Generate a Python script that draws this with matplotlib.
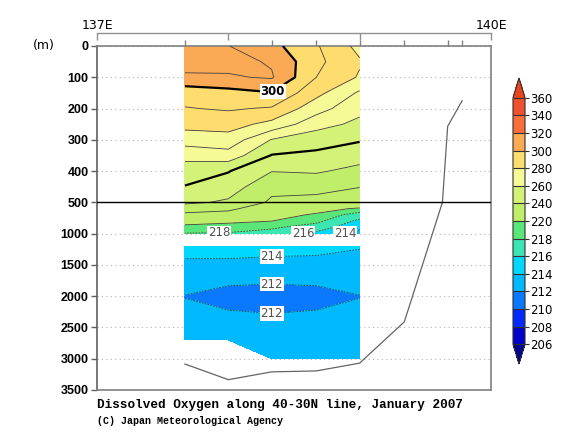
import numpy as np
import matplotlib
matplotlib.use("Agg")
import matplotlib.pyplot as plt
from matplotlib.colors import ListedColormap, BoundaryNorm

# ---------------- data ----------------
lons = [137.67, 138.0, 138.33, 138.67, 139.0]
depths = [0, 50, 100, 150, 200, 250, 300, 350, 400, 450, 500,
          600, 700, 800, 900, 1000, 1100, 1200, 1500, 1750, 2000, 2250, 2500, 2700, 3000]
nan = np.nan
# dissolved oxygen (umol/kg), rows = depths, cols = lons
oxy = [
    [316, 310.2, 303, 291, 277],
    [315, 313, 309, 292.5, 281],
    [308, 309, 311, 290, 279],
    [294, 296.5, 299.5, 283, 268.5],
    [289.5, 291, 289, 274, 263],
    [283, 284, 277, 264, 257.5],
    [275, 276, 259.5, 254, 251],
    [262.5, 266, 249.5, 248, 243.5],
    [256, 250.5, 240.3, 241, 237.5],
    [249.5, 245, 232.5, 234, 230.3],
    [242, 238.5, 228.5, 226, 224],
    [234, 232, 224, 221.5, 219.5],
    [228, 226.5, 221.5, 219.5, 217],
    [221, 220.5, 220, 218.5, 215.5],
    [219.3, 219, 218.3, 217, 214.5],
    [217.9, 217.8, 217.2, 215.5, 213.2],
    [nan, nan, nan, nan, nan],
    [214.6, 214.6, 214.5, 214.4, 214.08],
    [213.7, 213.7, 213.6, 213.6, 213.6],
    [212.4, 212.2, 212.15, 212.2, 212.4],
    [211.97, 211.6, 211.5, 211.6, 211.97],
    [212.2, 212.05, 211.95, 212.05, 212.2],
    [212.6, 212.5, 212.4, 212.4, 212.6],
    [212.8, 212.8, 212.6, 212.6, 212.8],
    [nan, nan, 212.9, 212.9, 213.0],
]

# sea bottom
bottom_lon = [137.67, 138.0, 138.33, 138.67, 139.0, 139.34, 139.63, 139.67, 139.78]
bottom_dep = [3085, 3335, 3210, 3195, 3070, 2410, 500, 257, 175]

# station ticks on the top frame
station_lons = [137.67, 138.33, 138.67, 139.0, 139.34, 139.67, 139.78]

shade_levels = [206, 208, 210, 212, 214, 216, 218, 220, 240, 260, 280, 300, 320, 340, 360]
labeled_levels = [212, 214, 216, 218, 300]
plain_levels = [220, 230, 240, 250, 260, 270, 280, 290, 310]
thick_levels = [250, 300]
ytick_vals = [0, 100, 200, 300, 400, 500, 1000, 1500, 2000, 2500, 3000, 3500]

shade_colors = ['#0000c8', '#0028ff', '#0a78ff', '#00b9ff', '#00d7ff', '#3ce6b4',
                '#5ae678', '#c0ee6a', '#d4f278', '#f5fa96', '#ffdc6e', '#faaa55',
                '#fa6e3c', '#f0502d']
under_color = '#00008c'
over_color = '#e6461e'

# ---------------- figure ----------------
W, H = 570, 441
fig = plt.figure(figsize=(W / 100, H / 100), dpi=100)

def px(x0, y0, x1, y1):
    return [x0 / W, 1 - y1 / H, (x1 - x0) / W, (y1 - y0) / H]

ax = fig.add_axes(px(97, 46, 491, 390))

def fwd(d):
    d = np.asarray(d, dtype=float)
    return np.where(d <= 500, d, 500 + (d - 500) / 5.0)

def inv(v):
    v = np.asarray(v, dtype=float)
    return np.where(v <= 500, v, 500 + (v - 500) * 5.0)

ax.set_yscale('function', functions=(fwd, inv))
ax.set_xlim(137, 140)
ax.set_ylim(3500, 0)

X, Y = np.meshgrid(lons, depths)
Z = np.ma.masked_invalid(np.array(oxy, dtype=float))

cmap = ListedColormap(shade_colors)
cmap.set_under(under_color)
cmap.set_over(over_color)
norm = BoundaryNorm(shade_levels, cmap.N)

cf = ax.contourf(X, Y, Z, levels=shade_levels, cmap=cmap, norm=norm, extend='both', zorder=2)

def line_style(lv):
    return 'solid' if lv >= 220 else (0, (2, 1.5))

def line_width(lv):
    return 1.6 if lv in thick_levels else 0.6

def line_color(lv):
    return 'black' if lv in thick_levels else '#404040'

cs_plain = ax.contour(X, Y, Z, levels=plain_levels,
                      colors=[line_color(v) for v in plain_levels],
                      linewidths=[line_width(v) for v in plain_levels],
                      linestyles=[line_style(v) for v in plain_levels], zorder=3)
cs_lab = ax.contour(X, Y, Z, levels=labeled_levels,
                    colors=[line_color(v) for v in labeled_levels],
                    linewidths=[line_width(v) for v in labeled_levels],
                    linestyles=[line_style(v) for v in labeled_levels], zorder=3)

lab_pos = [(138.34, 146), (137.93, 988), (138.57, 990), (138.89, 985),
           (138.33, 1400), (138.33, 1810), (138.33, 2275)]
labels = ax.clabel(cs_lab, manual=lab_pos, inline=True,
                   fmt='%d', fontsize=8.5, inline_spacing=2)
for t in labels:
    t.set_rotation(0)
    t.set_bbox(dict(facecolor='white', edgecolor='none', pad=0.5))
    t.set_zorder(5)
    if t.get_text() == '300':
        t.set_color('black')
        t.set_fontweight('bold')
    else:
        t.set_color('#505050')

# sea bottom line
ax.plot(bottom_lon, bottom_dep, color='#646464', lw=0.9, zorder=4)

# 500 m break line
ax.axhline(500, color='black', lw=1.0, zorder=4)

# grid
ax.set_yticks(ytick_vals)
ax.set_yticklabels([str(v) for v in ytick_vals], fontfamily='Liberation Sans',
                   fontweight='bold', fontsize=9)
ax.yaxis.grid(True, linestyle=(0, (1, 3)), color='#b4b4b4', lw=0.8, zorder=1)
ax.set_axisbelow(True)
ax.tick_params(axis='y', direction='out', length=4, width=1, color='#606060', pad=2)

ax.xaxis.set_ticks_position('top')
ax.set_xticks(station_lons)
ax.set_xticklabels([])
ax.tick_params(axis='x', direction='out', length=4, width=1, color='#808080')
for s in ax.spines.values():
    s.set_color('#808080')
    s.set_linewidth(1.2)
ax.spines['left'].set_color('#606060')

# top longitude axis
ax2 = fig.add_axes(px(97, 33, 491, 33.01))
ax2.set_xlim(137, 140)
ax2.set_yticks([])
for k in ['left', 'right', 'top']:
    ax2.spines[k].set_visible(False)
ax2.spines['bottom'].set_color('#909090')
ax2.spines['bottom'].set_linewidth(1.0)
ax2.set_xticks([137, 138, 139, 140])
ax2.set_xticklabels(['137E', '', '', '140E'])
ax2.tick_params(axis='x', bottom=True, top=False, labelbottom=False, labeltop=True,
                direction='out', length=5, width=1, color='#909090', pad=-4.5,
                labelsize=9)
ax2.patch.set_visible(False)

# unit label
fig.text(44 / W, 1 - 46 / H, '(m)', fontsize=9, ha='center', va='center')

# colorbar
cax = fig.add_axes(px(513, 78, 525, 364))
cb = fig.colorbar(cf, cax=cax, ticks=shade_levels, extendfrac=0.08, drawedges=True)
cb.outline.set_edgecolor('#303030')
cb.outline.set_linewidth(0.8)
cb.dividers.set_color('#303030')
cb.dividers.set_linewidth(0.8)
cax.tick_params(length=3, width=0.8, color='#303030', labelsize=8.5, pad=1)

# titles
fig.text(97 / W, 1 - 405 / H, 'Dissolved Oxygen along 40-30N line, January 2007',
         fontfamily='Liberation Mono', fontweight='bold', fontsize=9.1,
         ha='left', va='center')
fig.text(97 / W, 1 - 421 / H, '(C) Japan Meteorological Agency',
         fontfamily='Liberation Mono', fontweight='bold', fontsize=7.2,
         ha='left', va='center')

fig.savefig('out.png', dpi=100)
